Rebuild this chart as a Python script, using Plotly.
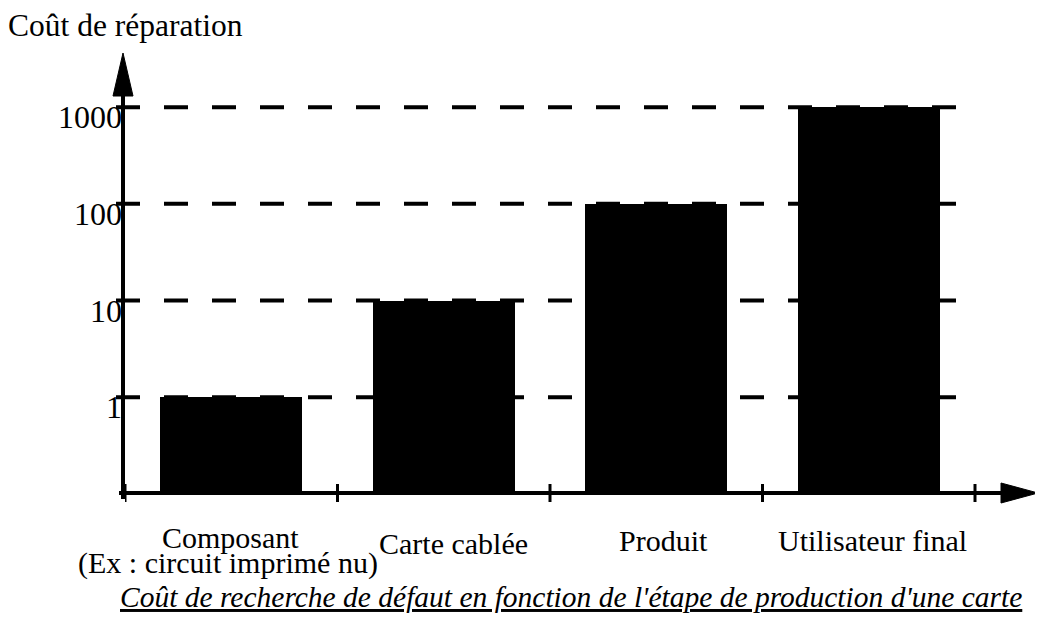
import plotly.graph_objects as go

# ---- data ----
categories = ["Composant", "Carte cablée", "Produit", "Utilisateur final"]
costs = [1, 10, 100, 1000]
tick_vals = [1, 10, 100, 1000]
tick_text = ["1", "10", "100", "1000"]
subtitle = "(Ex : circuit imprimé nu)"
y_title = "Coût de réparation"
caption = "Coût de recherche de défaut en fonction de l'étape de production d'une carte"

# ---- layout geometry (page pixels) ----
W, H = 1043, 619
OFF = 8  # default body margin of the html page
L, R, T, B = 125, 3, 53, 125          # plot area in page pixels
PW, PH = W - L - R, H - T - B
SLOT = 212.5  # pixels per category


def px(x):
    return (x - L) / PW


def py(y):
    return (H - B - y) / PH


SERIF = "Liberation Serif, Times New Roman, serif"

fig = go.Figure()
fig.add_trace(go.Bar(
    x=categories, y=costs, width=0.67,
    marker=dict(color="black", line=dict(width=0)),
    hoverinfo="skip",
))

shapes = []
# dashed grid lines
for v in tick_vals:
    shapes.append(dict(type="line", xref="paper", yref="y",
                       x0=px(116), x1=px(962), y0=v, y1=v,
                       line=dict(color="black", width=4, dash="24px,24px")))
# y axis + arrow
shapes.append(dict(type="line", xref="paper", yref="paper",
                   x0=px(123), x1=px(123), y0=py(499), y1=py(90),
                   line=dict(color="black", width=4)))
shapes.append(dict(type="path", xref="paper", yref="paper",
                   path=f"M {px(113)},{py(96)} L {px(133)},{py(96)} L {px(123)},{py(53)} Z",
                   fillcolor="black", line=dict(color="black", width=1)))
# x axis + arrow
shapes.append(dict(type="line", xref="paper", yref="paper",
                   x0=px(119), x1=px(1008), y0=py(493), y1=py(493),
                   line=dict(color="black", width=4)))
shapes.append(dict(type="path", xref="paper", yref="paper",
                   path=f"M {px(1001)},{py(483)} L {px(1001)},{py(503)} L {px(1038)},{py(493)} Z",
                   fillcolor="black", line=dict(color="black", width=1)))
# x ticks at category boundaries
for i in range(len(categories) + 1):
    shapes.append(dict(type="line", xref="x", yref="paper",
                       x0=i - 0.5, x1=i - 0.5, y0=py(484), y1=py(502),
                       line=dict(color="black", width=3)))

annotations = []
label_pos = [(230, 537), (453, 543), (663, 540), (872, 540)]
for name, (cx, cy) in zip(categories, label_pos):
    annotations.append(dict(text=name, xref="paper", yref="paper",
                            x=px(cx), y=py(cy), xanchor="center", yanchor="middle",
                            showarrow=False, font=dict(family=SERIF, size=30, color="black")))
annotations.append(dict(text=subtitle, xref="paper", yref="paper",
                        x=px(228), y=py(563), xanchor="center", yanchor="middle",
                        showarrow=False, font=dict(family=SERIF, size=30, color="black")))
annotations.append(dict(text=y_title, xref="paper", yref="paper",
                        x=px(6), y=py(25), xanchor="left", yanchor="middle",
                        showarrow=False, font=dict(family=SERIF, size=31.5, color="black")))
annotations.append(dict(text=f"<i><u>{caption}</u></i>", xref="paper", yref="paper",
                        x=px(571), y=py(597), xanchor="center", yanchor="middle",
                        showarrow=False, font=dict(family=SERIF, size=29.5, color="black")))

fig.update_layout(
    width=W - OFF, height=H - OFF,
    margin=dict(l=L - OFF, r=R, t=T - OFF, b=B, pad=0),
    paper_bgcolor="white", plot_bgcolor="white",
    showlegend=False,
    bargap=0,
    xaxis=dict(type="category", range=[-0.5, -0.5 + PW / SLOT],
               showticklabels=False, showgrid=False, zeroline=False,
               showline=False, ticks="", fixedrange=True),
    yaxis=dict(type="log", range=[-1, 3.56], tickvals=tick_vals, ticktext=tick_text,
               showgrid=False, zeroline=False, showline=False, ticks="",
               ticklabelshift=10, ticklabelstandoff=2,
               tickfont=dict(family=SERIF, size=32, color="black"), fixedrange=True),
    shapes=shapes,
    annotations=annotations,
)

fig.write_html("out.html")
